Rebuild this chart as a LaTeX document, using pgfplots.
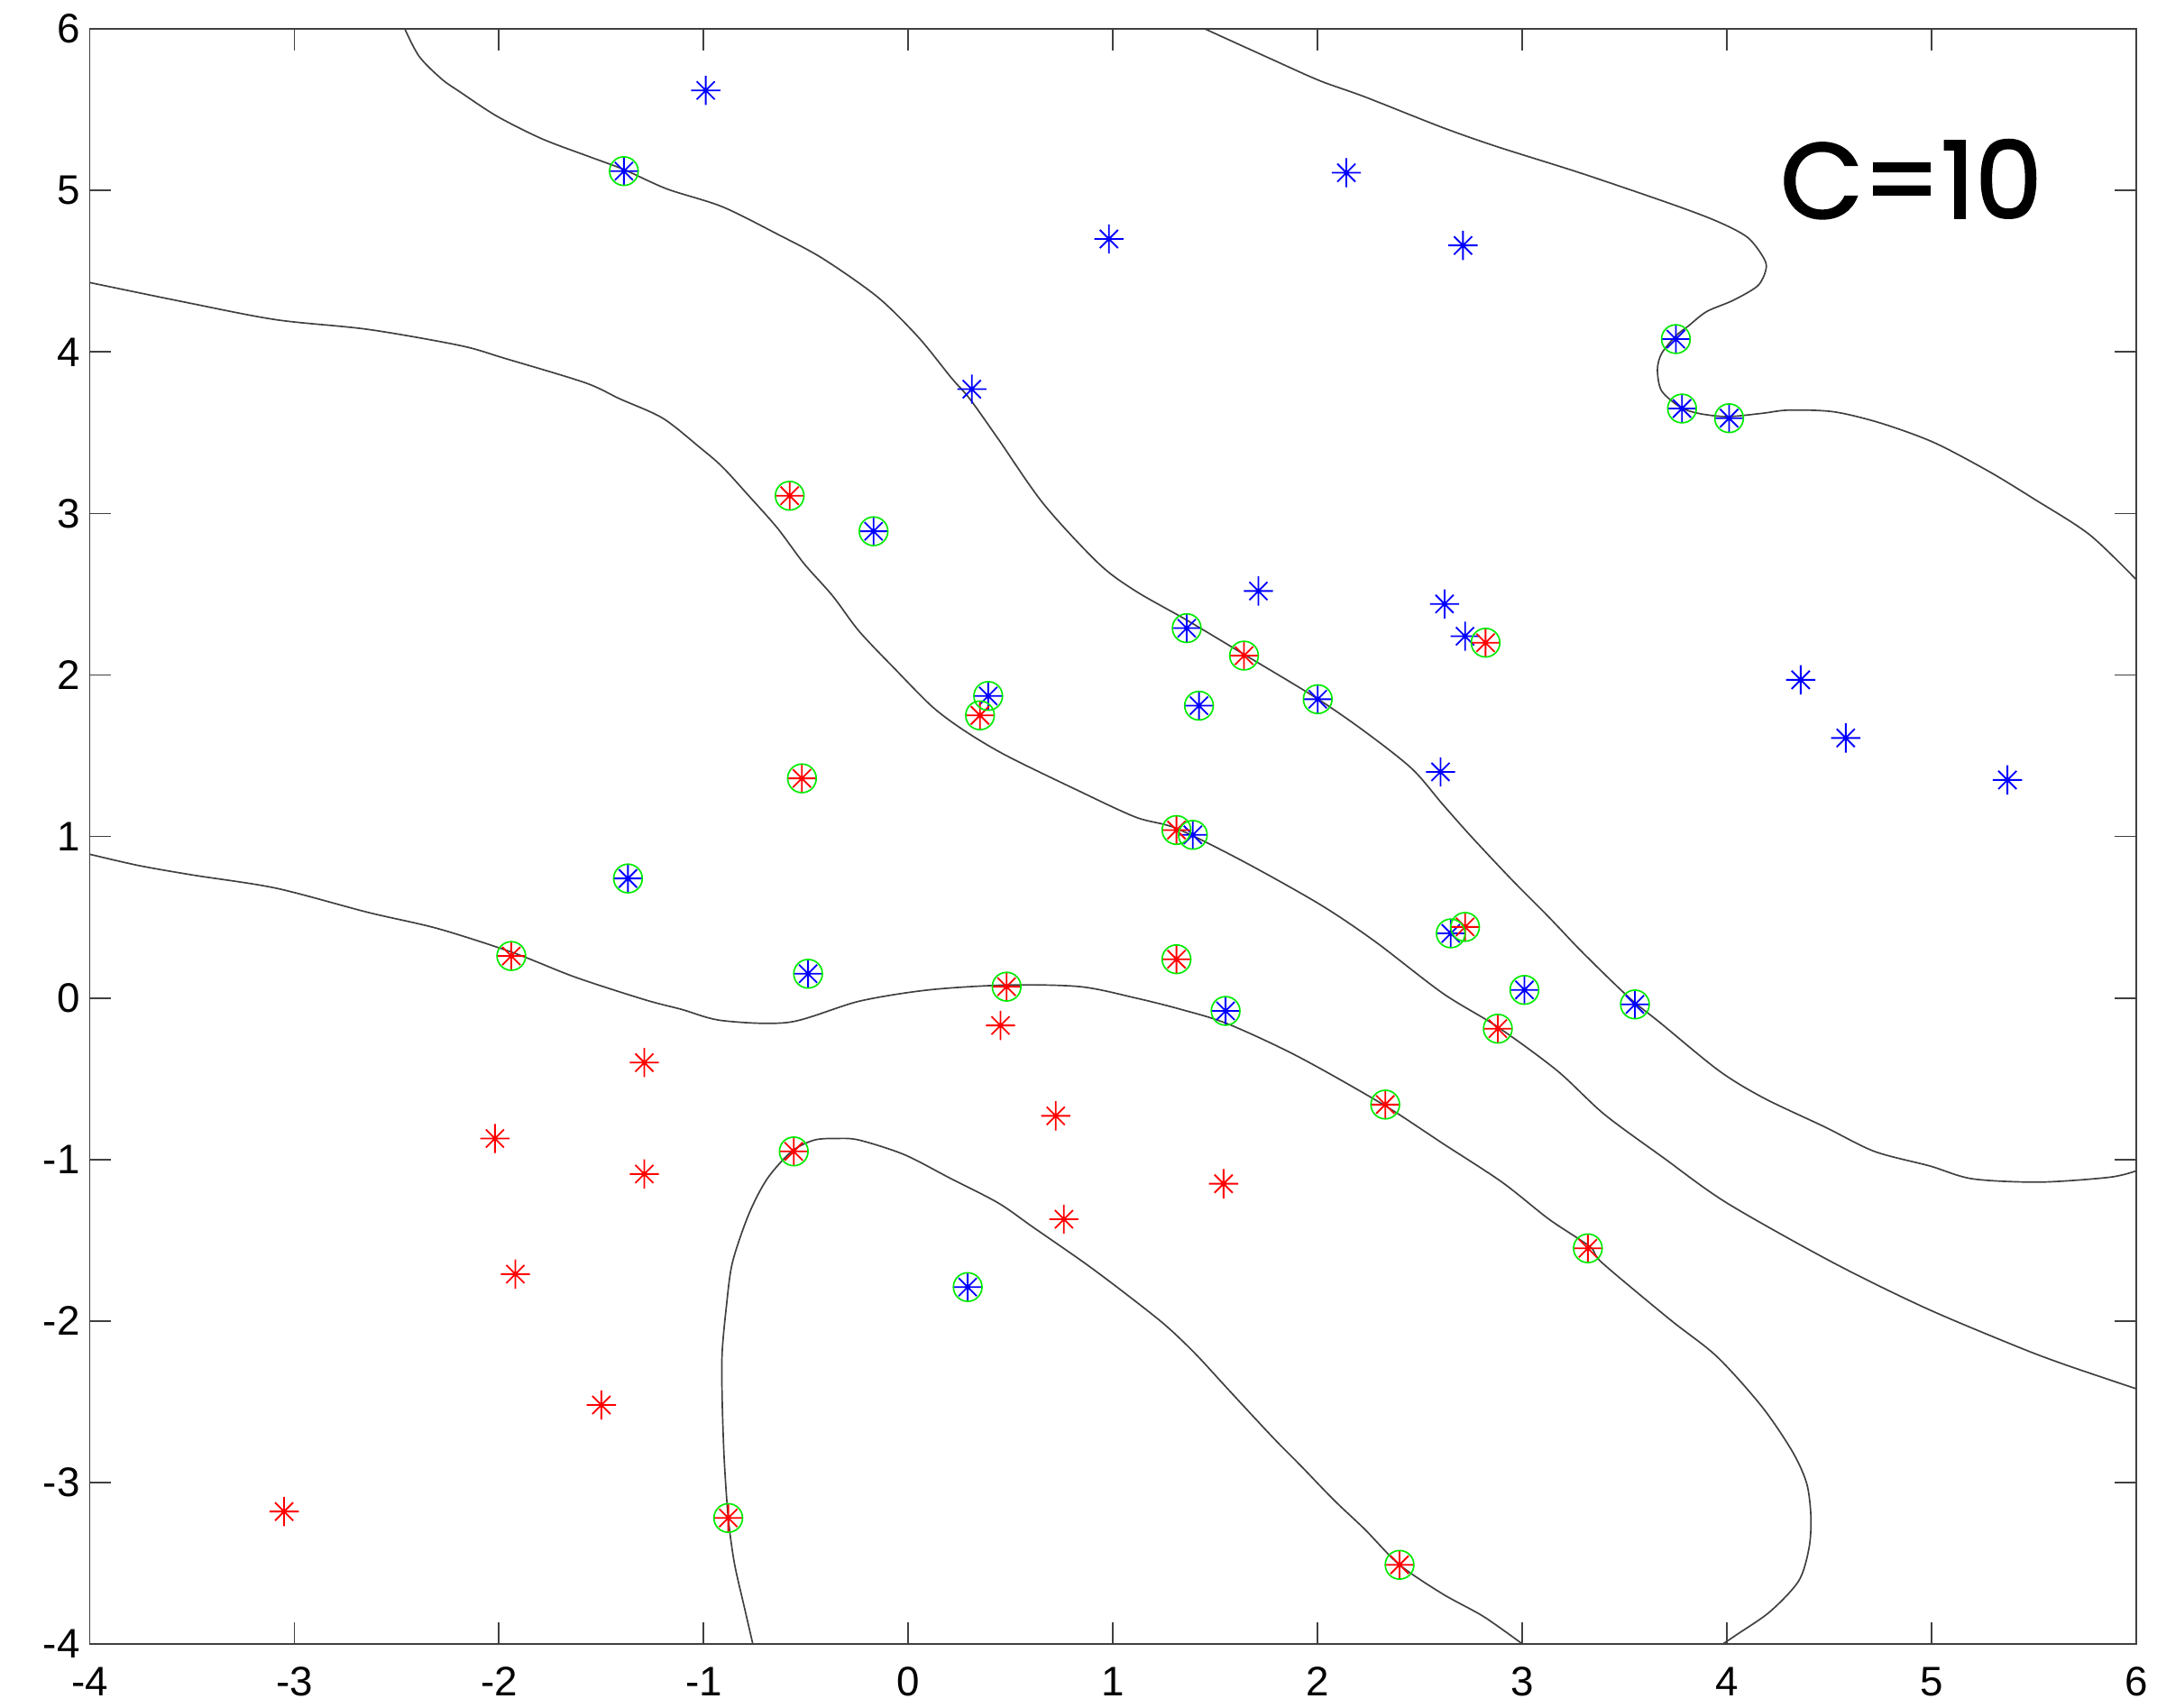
\documentclass[border=0pt]{standalone}
\usepackage{fontspec}
\setmainfont{Liberation Sans}
\newfontfamily\cfont[FakeBold=1.6]{Poppins}
\usepackage{pgfplots}
\pgfplotsset{compat=1.18}

% matlab style '*' marker: plus and cross together
\pgfdeclareplotmark{ast8}{%
  \pgfpathmoveto{\pgfqpoint{0pt}{\pgfplotmarksize}}%
  \pgfpathlineto{\pgfqpoint{0pt}{-\pgfplotmarksize}}%
  \pgfpathmoveto{\pgfqpoint{\pgfplotmarksize}{0pt}}%
  \pgfpathlineto{\pgfqpoint{-\pgfplotmarksize}{0pt}}%
  \pgfpathmoveto{\pgfqpoint{0.62\pgfplotmarksize}{0.62\pgfplotmarksize}}%
  \pgfpathlineto{\pgfqpoint{-0.62\pgfplotmarksize}{-0.62\pgfplotmarksize}}%
  \pgfpathmoveto{\pgfqpoint{-0.62\pgfplotmarksize}{0.62\pgfplotmarksize}}%
  \pgfpathlineto{\pgfqpoint{0.62\pgfplotmarksize}{-0.62\pgfplotmarksize}}%
  \pgfusepathqstroke}

\definecolor{mblue}{rgb}{0,0,1}
\definecolor{mred}{rgb}{1,0,0}
\definecolor{mgreen}{rgb}{0,0.92,0}

\begin{document}
\begin{tikzpicture}
  \useasboundingbox (-32.6pt,-23pt) rectangle (751.4pt,597.5pt);
  \begin{axis}[
      at={(0,0)}, anchor=south west,
      scale only axis,
      width=743.9pt, height=586.95pt,
      xmin=-4, xmax=6, ymin=-4, ymax=6,
      xtick={-4,-3,...,6}, ytick={-4,-3,...,6},
      tick align=inside,
      major tick length=7.8pt,
      axis line style={black!75, line width=0.6pt},
      tick style={black!75, line width=0.6pt},
      /pgf/number format/assume math mode=true,
      ticklabel style={font=\fontsize{15}{16}\selectfont},
      xticklabel style={yshift=-5pt},
      contour/.style={black!75, line width=0.55pt, smooth, tension=0.5},
    ]
    % contour lines
    \addplot[contour] coordinates {
      (-2.46,6.00) (-2.39,5.83) (-2.28,5.69) (-2.19,5.61) (-2.01,5.46)
      (-1.79,5.32) (-1.56,5.21) (-1.39,5.13) (-1.18,5.01) (-0.91,4.90)
      (-0.64,4.73) (-0.42,4.58) (-0.15,4.34) (0.05,4.09) (0.21,3.84)
      (0.30,3.71) (0.44,3.46) (0.66,3.06) (0.93,2.69) (1.11,2.52)
      (1.36,2.34) (1.65,2.12) (1.99,1.86) (2.23,1.65) (2.46,1.42)
      (2.61,1.20) (2.75,1.00) (2.95,0.73) (3.13,0.50) (3.28,0.30)
      (3.44,0.10) (3.55,-0.03) (3.67,-0.15) (3.96,-0.45) (4.18,-0.62)
      (4.48,-0.80) (4.72,-0.95) (4.99,-1.04) (5.20,-1.12) (5.53,-1.14)
      (5.87,-1.11) (6.00,-1.07)
    };
    \addplot[contour] coordinates {
      (-4.00,4.43) (-3.54,4.31) (-3.09,4.20) (-2.64,4.14) (-2.19,4.04)
      (-1.97,3.96) (-1.58,3.81) (-1.41,3.71) (-1.20,3.59) (-1.02,3.41)
      (-0.91,3.29) (-0.78,3.11) (-0.64,2.91) (-0.51,2.69) (-0.37,2.49)
      (-0.24,2.27) (-0.06,2.03) (0.12,1.80) (0.28,1.65) (0.48,1.50)
      (0.82,1.29) (1.11,1.12) (1.31,1.05) (1.63,0.85) (2.01,0.58)
      (2.28,0.35) (2.61,0.03) (2.88,-0.18) (3.17,-0.45) (3.40,-0.72)
      (3.69,-0.99) (4.00,-1.27) (4.52,-1.64) (4.97,-1.92) (5.42,-2.16)
      (5.65,-2.27) (6.00,-2.42)
    };
    \addplot[contour] coordinates {
      (-4.00,0.89) (-3.76,0.82) (-3.49,0.76) (-3.09,0.68) (-2.64,0.53)
      (-2.30,0.43) (-1.93,0.28) (-1.63,0.13) (-1.29,-0.01) (-1.11,-0.07)
      (-0.91,-0.14) (-0.58,-0.15) (-0.24,-0.02) (0.10,0.05) (0.48,0.08)
      (0.84,0.07) (1.11,0.00) (1.33,-0.07) (1.56,-0.16) (1.90,-0.36)
      (2.32,-0.66) (2.61,-0.90) (2.90,-1.14) (3.13,-1.37) (3.33,-1.54)
      (3.39,-1.64) (3.72,-1.99) (3.95,-2.22) (4.17,-2.53) (4.32,-2.81)
      (4.39,-3.01) (4.41,-3.22) (4.40,-3.41) (4.35,-3.61) (4.21,-3.80)
      (4.05,-3.94) (3.98,-4.00)
    };
    \addplot[contour] coordinates {
      (-0.76,-4.00) (-0.80,-3.78) (-0.85,-3.50) (-0.88,-3.22) (-0.90,-2.85)
      (-0.91,-2.47) (-0.91,-2.20) (-0.89,-1.92) (-0.86,-1.64) (-0.78,-1.34)
      (-0.69,-1.12) (-0.57,-0.95) (-0.46,-0.88) (-0.35,-0.87) (-0.24,-0.88)
      (-0.02,-0.97) (0.21,-1.12) (0.44,-1.27) (0.61,-1.42) (0.86,-1.64)
      (1.05,-1.82) (1.25,-2.02) (1.40,-2.20) (1.56,-2.42)
      (1.78,-2.72) (1.92,-2.90) (2.08,-3.11) (2.23,-3.29) (2.40,-3.51)
      (2.61,-3.69) (2.81,-3.83) (3.00,-4.00)
    };
    \addplot[contour] coordinates {
      (1.45,6.00) (1.78,5.81) (2.01,5.68) (2.23,5.58) (2.61,5.39)
      (2.88,5.27) (3.28,5.11) (3.72,4.92) (3.95,4.81) (4.10,4.71)
      (4.18,4.58) (4.19,4.51) (4.15,4.41) (4.03,4.32) (3.90,4.25)
      (3.81,4.16) (3.75,4.10) (3.68,3.99) (3.66,3.89) (3.68,3.76)
      (3.77,3.66) (3.86,3.62) (4.00,3.60) (4.17,3.62) (4.30,3.64)
      (4.52,3.63) (4.75,3.56) (5.01,3.44) (5.28,3.26) (5.50,3.09)
      (5.77,2.87) (6.00,2.59)
    };
    % class +1 (blue)
    \addplot[only marks, mark=ast8, mark size=5.3pt, color=mblue,
      mark options={line width=0.6pt}] coordinates {
      (-0.99,5.62) (0.98,4.70) (2.14,5.11) (2.71,4.66) (0.31,3.77)
      (1.71,2.52) (2.62,2.44) (2.72,2.24) (4.36,1.97) (4.58,1.61)
      (5.37,1.35) (2.60,1.40)
      (-1.39,5.12) (3.75,4.08) (3.78,3.65) (4.01,3.59) (-0.17,2.89)
      (1.36,2.29) (0.39,1.87) (1.42,1.81) (2.00,1.85) (1.39,1.01)
      (-1.37,0.74) (-0.49,0.15) (2.65,0.40) (3.01,0.05) (3.55,-0.04)
      (1.55,-0.08) (0.29,-1.79)
    };
    % class -1 (red)
    \addplot[only marks, mark=ast8, mark size=5.3pt, color=mred,
      mark options={line width=0.6pt}] coordinates {
      (-1.29,-0.40) (0.45,-0.17) (-2.02,-0.87) (-1.29,-1.09) (0.72,-0.73)
      (1.54,-1.15) (0.76,-1.37) (-1.92,-1.71) (-1.50,-2.52) (-3.05,-3.18)
      (-0.58,3.11) (1.64,2.12) (2.82,2.20) (0.35,1.75) (-0.52,1.36)
      (1.31,1.04) (-1.94,0.26) (2.72,0.44) (1.31,0.24) (0.48,0.07)
      (2.88,-0.19) (2.33,-0.66) (-0.56,-0.95) (3.32,-1.55) (-0.88,-3.22)
      (2.40,-3.51)
    };
    % support vectors
    \addplot[only marks, mark=o, mark size=5.2pt, color=mgreen,
      mark options={line width=0.55pt}] coordinates {
      (-1.39,5.12) (3.75,4.08) (3.78,3.65) (4.01,3.59) (-0.17,2.89)
      (1.36,2.29) (0.39,1.87) (1.42,1.81) (2.00,1.85) (1.39,1.01)
      (-1.37,0.74) (-0.49,0.15) (2.65,0.40) (3.01,0.05) (3.55,-0.04)
      (1.55,-0.08) (0.29,-1.79)
      (-0.58,3.11) (1.64,2.12) (2.82,2.20) (0.35,1.75) (-0.52,1.36)
      (1.31,1.04) (-1.94,0.26) (2.72,0.44) (1.31,0.24) (0.48,0.07)
      (2.88,-0.19) (2.33,-0.66) (-0.56,-0.95) (3.32,-1.55) (-0.88,-3.22)
      (2.40,-3.51)
    };
    \node[font=\cfont\fontsize{39}{40}\selectfont, inner sep=0pt]
      at (axis cs:4.9,5.07) {C=10};
  \end{axis}
\end{tikzpicture}
\end{document}
